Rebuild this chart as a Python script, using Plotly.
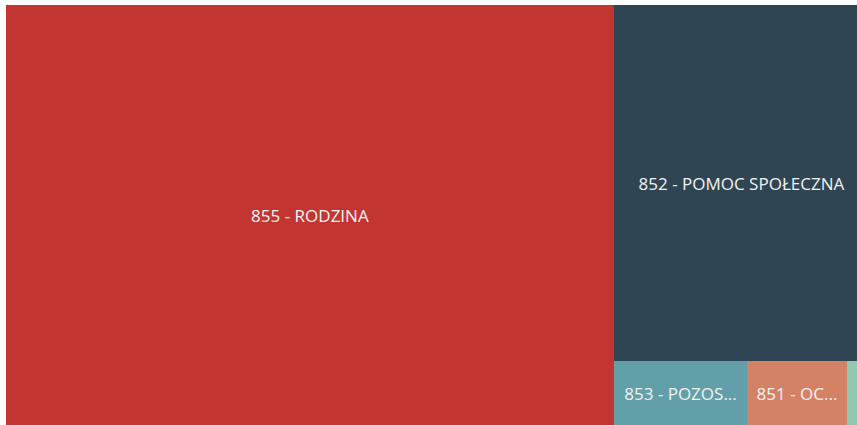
import plotly.graph_objects as go

ids = ["855", "852", "853", "851", "854"]
labels = ["855 - RODZINA", "852 - POMOC SPOŁECZNA", "853 - POZOS...", "851 - OC...", ""]
values = [255360, 90780, 8512, 6400, 1408]
colors = ["#c23531", "#2f4554", "#61a0a8", "#d48265", "#91c7ae"]

fig = go.Figure(go.Treemap(
    ids=ids,
    labels=ids,
    parents=[""] * len(ids),
    values=values,
    text=labels,
    textinfo="text",
    textposition="middle center",
    marker=dict(colors=colors, line=dict(width=0), pad=dict(t=0, l=0, r=0, b=0)),
    textfont=dict(family="Open Sans, Noto Sans, sans-serif", size=17, color="#f2f2f2"),
    tiling=dict(packing="squarify", squarifyratio=1, pad=0),
    pathbar=dict(visible=False),
    hoverinfo="text",
    sort=True,
))

fig.update_layout(
    width=870,
    height=425,
    margin=dict(l=6, r=1, t=5, b=0),
    paper_bgcolor="white",
    uniformtext=dict(minsize=17, mode="show"),
)

fig.write_html(
    "out.html",
    config={"displayModeBar": False},
    post_script="document.body.style.margin='0';document.body.style.overflow='hidden';document.documentElement.style.overflow='hidden';",
)
